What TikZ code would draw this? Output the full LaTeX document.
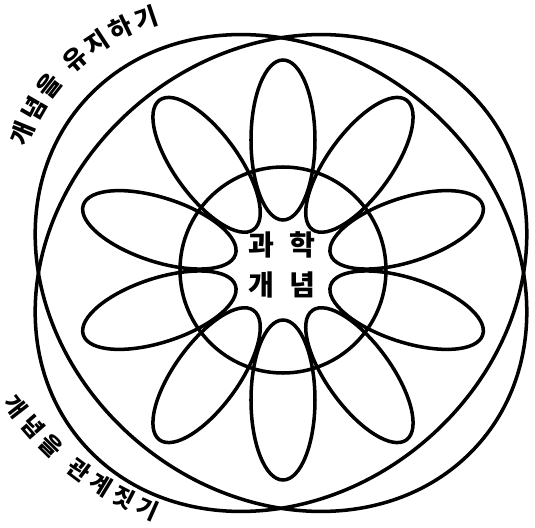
\documentclass[tikz,border=0pt]{standalone}
\usepackage{fontspec}
\newfontfamily\kr{Noto Sans CJK KR}
\usetikzlibrary{decorations.text}

\tikzset{
  petal/.style={line width=2pt},
  big/.style={shift={(-0.04,-0.06)}, yscale=0.97},
  lab/.style 2 args={decorate, decoration={text along path, text align=fit to path,
      text={|\kr\bfseries\fontsize{#1}{16}\selectfont|#2}}}
}

\begin{document}
\begin{tikzpicture}[line width=2pt]
  \useasboundingbox (-5.66,-5.16) rectangle (5.04,5.4);
  % two big ellipses
  \draw[big, rotate=-45] (0,0) ellipse [x radius=5.3, y radius=4.5];
  \draw[big, rotate=45] (0,0) ellipse [x radius=5.3, y radius=4.5];
  % flower
  \foreach \i in {0,...,9}
    \draw[petal, rotate=90-36*\i] (2.6,0) ellipse [x radius=1.6, y radius=0.64];
  \draw (0,0) circle [radius=2.06];
  \node[font=\kr\bfseries\fontsize{16}{23}\selectfont, align=center] (core) at (-0.02,0.1)
    {과\hspace{0.3cm}학\\개\hspace{0.3cm}념};
  % labels
  \coordinate (lowstart) at (-5.6,-2.66);
  \coordinate (lowend) at (-2.58,-5.02);
  \path[lab={14}{개념을 유지하기}, big, rotate=-45]
    (202:5.85 and 4.75) arc [start angle=202, end angle=156, x radius=5.85, y radius=4.75];
  \path[lab={13}{개념을 관계짓기}] (lowstart) to[bend right=15] (lowend);
\end{tikzpicture}
\end{document}
